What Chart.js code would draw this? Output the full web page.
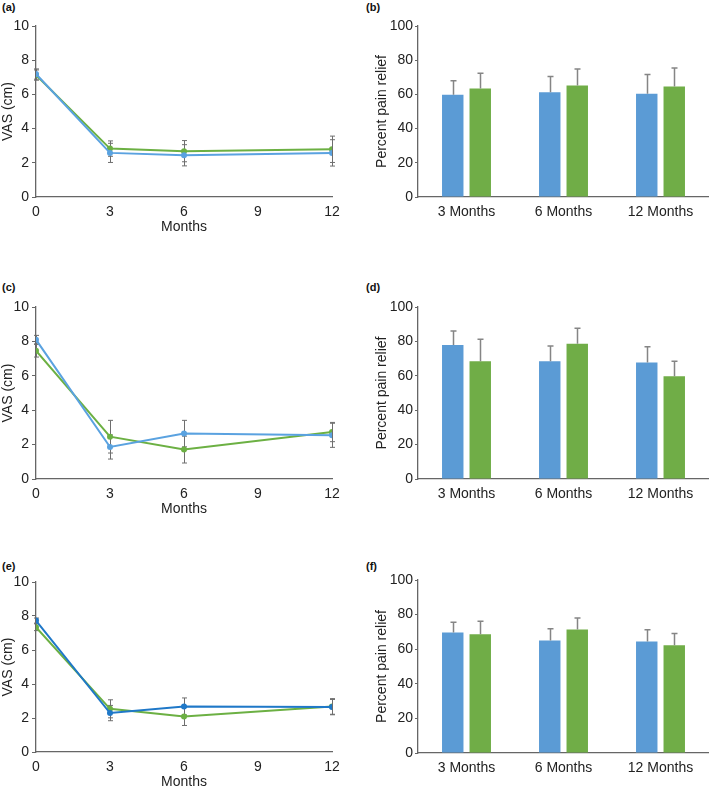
<!DOCTYPE html>
<html>
<head>
<meta charset="utf-8">
<script src="https://cdn.jsdelivr.net/npm/chart.js@4.4.1/dist/chart.umd.min.js"></script>
<style>
body { margin: 0; background: #fff; width: 709px; height: 788px; position: relative; overflow: hidden; font-family: "Liberation Sans", Arial, sans-serif; }
.lbl { position: absolute; font-size: 11px; font-weight: bold; color: #111; }
canvas { position: absolute; }
</style>
</head>
<body>
<div class="lbl" style="left:2px;top:1px">(a)</div>
<div class="lbl" style="left:366px;top:1px">(b)</div>
<div class="lbl" style="left:2px;top:281px">(c)</div>
<div class="lbl" style="left:366px;top:281px">(d)</div>
<div class="lbl" style="left:2px;top:560px">(e)</div>
<div class="lbl" style="left:366px;top:560px">(f)</div>

<canvas id="chartA"></canvas>
<canvas id="chartB"></canvas>
<canvas id="chartC"></canvas>
<canvas id="chartD"></canvas>
<canvas id="chartE"></canvas>
<canvas id="chartF"></canvas>

<script>
// x values and categories
const months = [0, 3, 6, 12];
const barCats = ['3 Months', '6 Months', '12 Months'];

// (a) VAS over time
const vasA_blue = [7.19, 2.58, 2.44, 2.58];
const vasA_blueErr = [0.3, 0.56, 0.62, 0.77];
const vasA_green = [7.13, 2.83, 2.68, 2.79];
const vasA_greenErr = [0.3, 0.45, 0.62, 0.77];

// (c)
const vasC_blue = [8.1, 1.86, 2.64, 2.54];
const vasC_blueErr = [0.25, 0.7, 0.77, 0.7];
const vasC_green = [7.46, 2.46, 1.71, 2.73];
const vasC_greenErr = [0.37, 0.95, 0.78, 0.56];

// (e)
const vasE_blue = [7.73, 2.29, 2.68, 2.64];
const vasE_blueErr = [0.15, 0.45, 0.5, 0.45];
const vasE_green = [7.34, 2.54, 2.09, 2.68];
const vasE_greenErr = [0.2, 0.53, 0.53, 0.46];

// (b) percent pain relief
const reliefB_blue = [59.8, 61.3, 60.4];
const reliefB_blueErr = [8.2, 9.2, 11.3];
const reliefB_green = [63.5, 65.2, 64.6];
const reliefB_greenErr = [8.8, 9.6, 10.8];

// (d)
const reliefD_blue = [77.9, 68.4, 67.8];
const reliefD_blueErr = [8.1, 8.9, 9.1];
const reliefD_green = [68.4, 78.7, 59.7];
const reliefD_greenErr = [12.8, 8.9, 8.7];

// (f)
const reliefF_blue = [69.6, 65.0, 64.4];
const reliefF_blueErr = [6.0, 6.8, 6.8];
const reliefF_green = [68.7, 71.4, 62.3];
const reliefF_greenErr = [7.5, 6.7, 6.8];

const FONT = { family: '"Liberation Sans", Arial, sans-serif', size: 14 };
const AXIS = '#666';
const TXT = '#222';

function drawErrors(chart, o) {
  const ctx = chart.ctx;
  const y = chart.scales.y;
  ctx.save();
  ctx.strokeStyle = o.color;
  ctx.lineWidth = o.width;
  chart.data.datasets.forEach((ds, i) => {
    const meta = chart.getDatasetMeta(i);
    meta.data.forEach((el, j) => {
      const raw = ds.data[j];
      const v = typeof raw === 'object' ? raw.y : raw;
      const e = ds.errors[j];
      const x = Math.round(el.x) + 0.5;
      const top = y.getPixelForValue(v + e);
      const bot = o.upOnly ? y.getPixelForValue(v) : y.getPixelForValue(v - e);
      ctx.beginPath();
      ctx.moveTo(x, top); ctx.lineTo(x, bot);
      ctx.moveTo(x - o.cap, top); ctx.lineTo(x + o.cap, top);
      if (!o.upOnly) { ctx.moveTo(x - o.cap, bot); ctx.lineTo(x + o.cap, bot); }
      ctx.stroke();
    });
  });
  ctx.restore();
}

const errorBars = {
  id: 'errorBars',
  beforeDatasetsDraw(chart, args, o) { if (!o.upOnly) drawErrors(chart, o); },
  afterDatasetsDraw(chart, args, o) { if (o.upOnly) drawErrors(chart, o); }
};

function place(id, left, top, w, h) {
  const c = document.getElementById(id);
  c.width = w; c.height = h;
  c.style.left = left + 'px';
  c.style.top = top + 'px';
  return c.getContext('2d');
}

function lineChart(id, top, areaH, blue, blueErr, green, greenErr, blueColor) {
  const ctx = place(id, 0, top, 350, 20 + areaH + 43);
  const pts = vals => months.map((m, i) => ({ x: m, y: vals[i] }));
  const ds = (vals, errs, col) => ({
    data: pts(vals), errors: errs,
    borderColor: col, backgroundColor: col,
    borderWidth: 2, pointRadius: 3, pointBorderWidth: 0, tension: 0
  });
  new Chart(ctx, {
    type: 'line',
    // first dataset is drawn on top
    data: { datasets: [ds(blue, blueErr, blueColor), ds(green, greenErr, '#6cb043')] },
    options: {
      responsive: false, animation: false,
      layout: { padding: { top: 20, right: 18, left: 0, bottom: 0 } },
      plugins: {
        legend: { display: false }, tooltip: { enabled: false },
        errorBars: { color: '#6e6e6e', width: 1, cap: 2.5, upOnly: false }
      },
      scales: {
        x: {
          type: 'linear', min: 0, max: 12,
          ticks: { stepSize: 3, font: FONT, color: TXT, padding: 7 },
          grid: { display: false, drawTicks: false },
          border: { display: true, color: AXIS, width: 1.3 },
          title: { display: true, text: 'Months', font: FONT, color: TXT, padding: { top: 0, bottom: 4.6 } },
          afterFit(s) { s.height = 43; }
        },
        y: {
          min: 0, max: 10,
          ticks: { stepSize: 2, font: FONT, color: TXT, padding: 3 },
          grid: { display: true, drawOnChartArea: false, drawTicks: true, tickLength: 4, color: AXIS },
          border: { display: true, color: AXIS, width: 1.3 },
          title: { display: true, text: 'VAS (cm)', font: FONT, color: TXT, padding: { top: 0, bottom: 0 } },
          afterFit(s) { s.width = 36; }
        }
      }
    },
    plugins: [errorBars]
  });
}

function barChart(id, top, areaH, blue, blueErr, green, greenErr) {
  const ctx = place(id, 370, top, 339, 20 + areaH + 25);
  const ds = (vals, errs, col) => ({
    data: vals, errors: errs, backgroundColor: col, borderWidth: 0,
    categoryPercentage: 0.567, barPercentage: 0.78
  });
  new Chart(ctx, {
    type: 'bar',
    data: { labels: barCats, datasets: [ds(blue, blueErr, '#5b9bd5'), ds(green, greenErr, '#70ad47')] },
    options: {
      responsive: false, animation: false,
      layout: { padding: { top: 20, right: 0, left: 0, bottom: 0 } },
      plugins: {
        legend: { display: false }, tooltip: { enabled: false },
        errorBars: { color: '#858585', width: 1.5, cap: 3, upOnly: true }
      },
      scales: {
        x: {
          ticks: { font: FONT, color: TXT, padding: 7 },
          grid: { display: false, drawTicks: false },
          border: { display: true, color: AXIS, width: 1.3 },
          afterFit(s) { s.height = 25; }
        },
        y: {
          min: 0, max: 100,
          ticks: { stepSize: 20, font: FONT, color: TXT, padding: 2 },
          grid: { display: true, drawOnChartArea: false, drawTicks: true, tickLength: 3, color: AXIS },
          border: { display: true, color: AXIS, width: 1.3 },
          title: { display: true, text: 'Percent pain relief', font: FONT, color: TXT, padding: { top: 3.6, bottom: 0 } },
          afterFit(s) { s.width = 48; }
        }
      }
    },
    plugins: [errorBars]
  });
}

lineChart('chartA', 6, 171, vasA_blue, vasA_blueErr, vasA_green, vasA_greenErr, '#5aa2e0');
lineChart('chartC', 287, 172, vasC_blue, vasC_blueErr, vasC_green, vasC_greenErr, '#5aa2e0');
lineChart('chartE', 562, 170, vasE_blue, vasE_blueErr, vasE_green, vasE_greenErr, '#1f78c8');

barChart('chartB', 6, 171, reliefB_blue, reliefB_blueErr, reliefB_green, reliefB_greenErr);
barChart('chartD', 287, 172, reliefD_blue, reliefD_blueErr, reliefD_green, reliefD_greenErr);
barChart('chartF', 560, 173, reliefF_blue, reliefF_blueErr, reliefF_green, reliefF_greenErr);
</script>
</body>
</html>
